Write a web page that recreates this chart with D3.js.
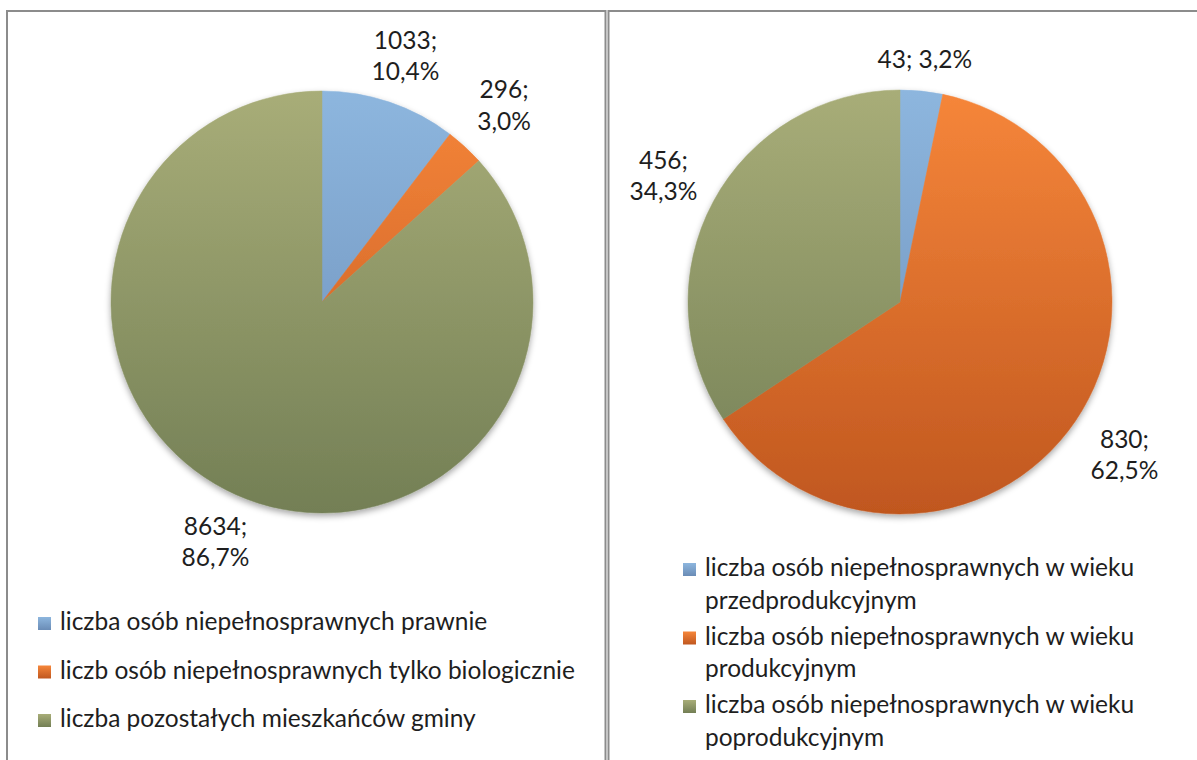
<!DOCTYPE html>
<html>
<head>
<meta charset="utf-8">
<script src="https://cdn.jsdelivr.net/npm/d3@7"></script>
<style>
body { margin: 0; background: #fff; }
text { font-family: Lato, "Open Sans", sans-serif; fill: #1e1e1e; }
</style>
</head>
<body>
<div class="cont"></div>
<script>

var w = 1197,
h = 760;

// left chart
var leftCategories = [
"liczba osób niepełnosprawnych prawnie",
"liczb osób niepełnosprawnych tylko biologicznie",
"liczba pozostałych mieszkańców gminy"];
var leftValues = [1033, 296, 8634];

// right chart
var rightCategories = [
["liczba osób niepełnosprawnych w wieku", "przedprodukcyjnym"],
["liczba osób niepełnosprawnych w wieku", "produkcyjnym"],
["liczba osób niepełnosprawnych w wieku", "poprodukcyjnym"]];
var rightValues = [43, 830, 456];

// gradient stops per series: [top, bottom]
var sliceColors = [
["#8db6de", "#6a8cb6"],
["#f6863a", "#c0571f"],
["#a8ad78", "#737f55"]];

var fontSize = 24.5;

var svg = d3.select(".cont").append("svg").
attr("width", w).
attr("height", h);

var defs = svg.append("defs");

var shadow = defs.append("filter").
attr("id", "shadow").
attr("x", "-20%").attr("y", "-20%").
attr("width", "140%").attr("height", "140%");
shadow.append("feDropShadow").
attr("dx", 0).attr("dy", 3).
attr("stdDeviation", 3).
attr("flood-color", "#000").
attr("flood-opacity", 0.35);

sliceColors.forEach(function (c, i) {
  var g = defs.append("linearGradient").
  attr("id", "legend-grad" + i).
  attr("x1", 0).attr("x2", 0).attr("y1", 0).attr("y2", 1);
  g.append("stop").attr("offset", "0%").attr("stop-color", c[0]);
  g.append("stop").attr("offset", "100%").attr("stop-color", c[1]);
});

// panel borders
var border = svg.append("g").
attr("fill", "none").
attr("stroke", "#8c8c8c").
attr("stroke-width", 2);
border.append("path").attr("d", "M7,762V11H605.5V762");
border.append("path").attr("d", "M608.5,762V11H1199");

var pct = function (v) {return d3.format(".1f")(v * 100).replace(".", ",") + "%";};

function drawPie(id, values, cx, cy, r) {
  var total = d3.sum(values);
  var pie = d3.pie().sort(null).value(function (d) {return d;});
  var arcs = pie(values);
  var arc = d3.arc().innerRadius(0).outerRadius(r);

  // vertical gradient over the whole pie, in the group's frame (origin = centre)
  sliceColors.forEach(function (c, i) {
    var g = defs.append("linearGradient").
    attr("id", id + "-grad" + i).
    attr("gradientUnits", "userSpaceOnUse").
    attr("x1", 0).attr("x2", 0).
    attr("y1", -r).attr("y2", r);
    g.append("stop").attr("offset", "0%").attr("stop-color", c[0]);
    g.append("stop").attr("offset", "100%").attr("stop-color", c[1]);
  });

  var g = svg.append("g").
  attr("transform", "translate(" + cx + "," + cy + ")");

  g.append("g").
  attr("filter", "url(#shadow)").
  selectAll("path").
  data(arcs).
  enter().append("path").
  attr("d", arc).
  attr("fill", function (d, i) {return "url(#" + id + "-grad" + i + ")";}).
  attr("stroke", function (d, i) {return "url(#" + id + "-grad" + i + ")";}).
  attr("stroke-width", 0.5);

  // data labels, placed just outside the slice along its middle angle
  var labels = g.selectAll(".lbl").
  data(arcs).
  enter().append("text").
  attr("class", "lbl").
  attr("text-anchor", "middle").
  style("font-size", fontSize + "px");

  labels.each(function (d) {
    var first = d.data + ";",
    second = pct(d.data / total);
    var t = d3.select(this);
    if ((first + " " + second).length <= 8) {
      t.append("tspan").attr("x", 0).attr("dy", 0).text(first + " " + second);
    } else {
      t.append("tspan").attr("x", 0).attr("dy", 0).text(first);
      t.append("tspan").attr("x", 0).attr("dy", "1.27em").text(second);
    }
    var bb = this.getBBox();
    var a = (d.startAngle + d.endAngle) / 2;
    var dx = Math.sin(a),
    dy = -Math.cos(a);
    var hw = bb.width / 2,
    hh = bb.height / 2;
    var t1 = Math.abs(dx) > 1e-6 ? hw / Math.abs(dx) : Infinity;
    var t2 = Math.abs(dy) > 1e-6 ? hh / Math.abs(dy) : Infinity;
    var dist = r + 18 + Math.min(t1, t2);
    var ox = dist * dx - (bb.x + hw),
    oy = dist * dy - (bb.y + hh);
    t.attr("transform", "translate(" + ox + "," + oy + ")");
  });
}

drawPie("left", leftValues, 322, 302, 211);
drawPie("right", rightValues, 900, 302, 212);

// legends
var legLeft = svg.append("g").
selectAll("g").
data(leftCategories).
enter().append("g").
attr("transform", function (d, i) {return "translate(38," + (630 + i * 48.5) + ")";});

legLeft.append("rect").
attr("y", -13).
attr("width", 13).attr("height", 13).
attr("fill", function (d, i) {return "url(#legend-grad" + i + ")";});

legLeft.append("text").
attr("x", 22).
style("font-size", fontSize + "px").
text(function (d) {return d;});

var legRight = svg.append("g").
selectAll("g").
data(rightCategories).
enter().append("g").
attr("transform", function (d, i) {return "translate(683," + (576 + i * 68.5) + ")";});

legRight.append("rect").
attr("y", -13).
attr("width", 13).attr("height", 13).
attr("fill", function (d, i) {return "url(#legend-grad" + i + ")";});

legRight.append("text").
style("font-size", fontSize + "px").
selectAll("tspan").
data(function (d) {return d;}).
enter().append("tspan").
attr("x", 22).
attr("dy", function (d, i) {return i ? 32.5 : 0;}).
text(function (d) {return d;});

</script>
</body>
</html>
